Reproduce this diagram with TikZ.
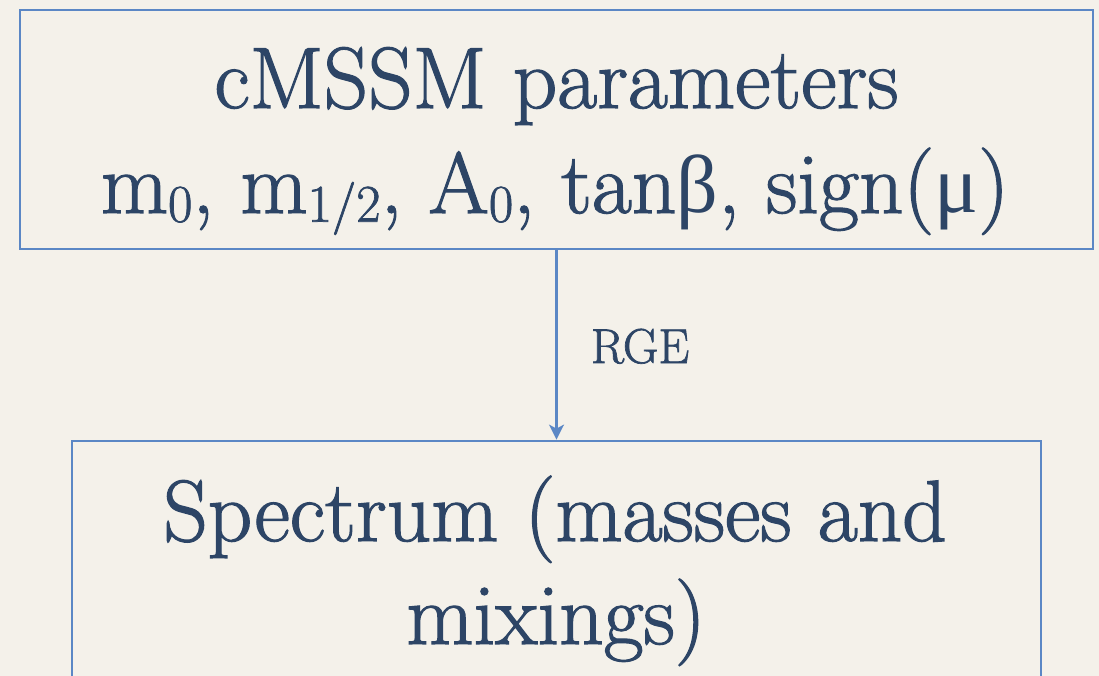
\documentclass[tikz,border=0pt]{standalone}
\usepackage{fontspec}
\newfontfamily\grk{Liberation Serif}
\newfontfamily\heavy{Latin Modern Roman}[RawFeature={embolden=1.4}]
\usetikzlibrary{arrows.meta}
\definecolor{bg}{HTML}{F4F1EA}
\definecolor{edge}{HTML}{5B87C5}
\definecolor{ink}{HTML}{2D4566}
\newcommand{\sbs}[1]{\raisebox{-0.1em}{\fontsize{53}{60}\selectfont #1}}
\begin{document}
\begin{tikzpicture}[x=1pt,y=-1pt,
  box/.style={draw=edge,line width=2.8pt,inner sep=0pt},
  big/.style={text=ink,font=\heavy\fontsize{87}{100}\selectfont,inner sep=0pt,anchor=base},
  small/.style={text=ink,font=\heavy\fontsize{49}{56}\selectfont,inner sep=0pt,anchor=base},
  conn/.style={draw=edge,line width=2.1pt,-{Stealth[length=15pt,width=15pt,inset=4pt]}}]
\fill[bg] (0,0) rectangle (1099,676);
\useasboundingbox (0,0) rectangle (1099,676);
\clip (0,0) rectangle (1099,676);
\node[box,minimum width=1073pt,minimum height=239pt] (top) at (556.5,129.5) {};
\node[box,minimum width=969pt,minimum height=320pt] (bot) at (556.5,601) {};
\draw[conn] (top.south) -- (bot.north);
\node[big] (t1) at (556.5,108) {cMSSM parameters};
\node[big] (t2) at (555,213) {m\sbs{0}, m\sbs{1/2}, A\sbs{0}, tan{\grk\fontsize{82}{90}\selectfont β}, sign({\grk\fontsize{82}{90}\selectfont μ})};
\node[big] (b1) at (555,541) {Spectrum (masses and};
\node[big] (b2) at (556,644) {mixings)};
\node[small] (rge) at (640,363) {RGE};
\end{tikzpicture}
\end{document}
